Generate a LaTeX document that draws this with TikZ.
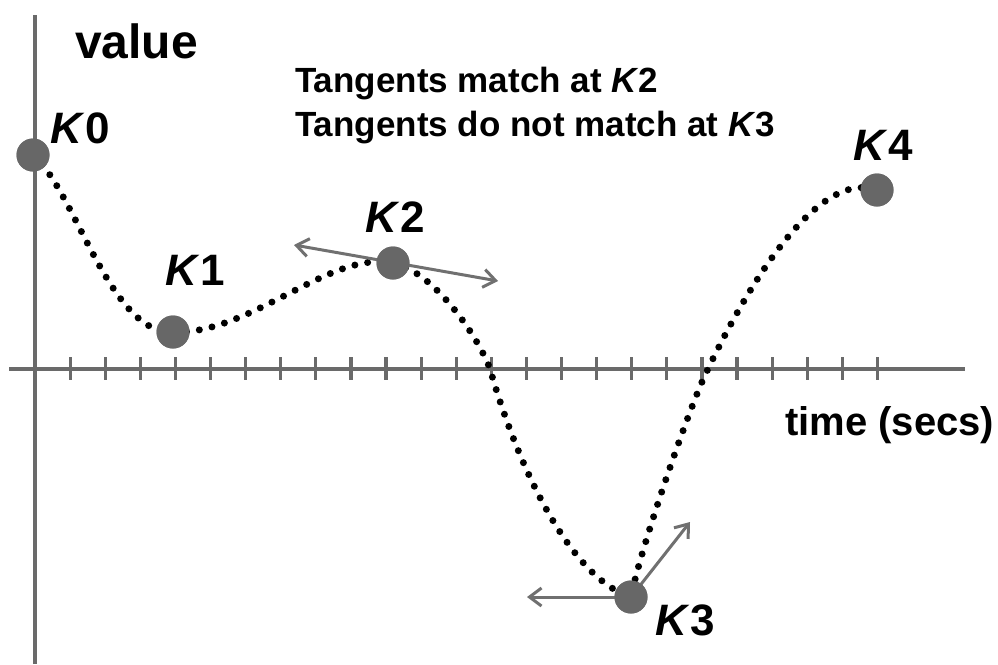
\documentclass[tikz,border=0pt]{standalone}
\usepackage{fontspec}
\setmainfont{Liberation Sans}
\usetikzlibrary{arrows.meta}
\definecolor{axisgray}{HTML}{6A6A6A}
\definecolor{keygray}{HTML}{676767}
\definecolor{tangray}{HTML}{707070}
\tikzset{
  axisline/.style={draw=axisgray, line width=3.5pt},
  tickline/.style={draw=axisgray, line width=3.2pt},
  keypt/.style={circle, fill=keygray, minimum size=33pt, inner sep=0pt},
  dotcurve/.style={draw=black, line width=7pt, line cap=round, dash pattern=on 0pt off 13pt},
  tanarrow/.style={draw=tangray, line width=3pt, arrows={-Straight Barb[length=12pt,width=18pt]}},
  lbl/.style={anchor=base west, inner sep=0pt, font=\bfseries},
}
\newcommand{\klab}[1]{{\itshape K}\kern4pt #1}
\begin{document}
\begin{tikzpicture}[x=1pt,y=-1pt]
\useasboundingbox (0,0) rectangle (998,664);
% axes
\coordinate (ytop) at (35,15);
\coordinate (ybot) at (35,664);
\coordinate (xl) at (9,369);
\coordinate (xr) at (965,369);
\draw[axisline] (ytop) -- (ybot);
\draw[axisline] (xl) -- (xr);
\foreach \i in {1,...,24} {
  \draw[tickline] ({35+35.1*\i},357) -- ({35+35.1*\i},380);
}
% key points
\node[keypt] (k0) at (33,155) {};
\node[keypt] (k1) at (173,332) {};
\node[keypt] (k2) at (393,263) {};
\node[keypt] (k3) at (631,597) {};
\node[keypt] (k4) at (877,190) {};
\coordinate (a) at (490,369);
\coordinate (b) at (707,371);
% curve
\draw[dotcurve] (k0.center) .. controls (75,190) and (110,335) .. (k1.center)
  .. controls (250,335) and (330,250) .. (k2.center)
  .. controls (433,271) and (478,336) .. (a)
  .. controls (522,480) and (575,580) .. (k3.center)
  .. controls (640,550) and (690,405) .. (b)
  .. controls (747,287) and (817,169) .. (k4.center);
% tangents
\coordinate (t2a) at (294,245);
\coordinate (t2b) at (498,281);
\coordinate (t3a) at (527,597);
\coordinate (t3b) at (690,522);
\draw[tanarrow, arrows={Straight Barb[length=12pt,width=18pt]-Straight Barb[length=12pt,width=18pt]}] (t2a) -- (t2b);
\draw[tanarrow] (k3.center) -- (t3a);
\draw[tanarrow] (k3.center) -- (t3b);
% key points drawn on top
\foreach \p in {(33,155),(173,332),(393,263),(631,597),(877,190)} {
  \fill[keygray] \p circle (16.5pt);
}
% labels
\node[lbl, font=\bfseries\fontsize{48}{56}\selectfont] (val) at (75,58) {value};
\node[lbl, font=\bfseries\fontsize{40}{48}\selectfont] (tim) at (785,435) {time (secs)};
\node[lbl, font=\bfseries\fontsize{35}{42}\selectfont] (tg1) at (295,92) {Tangents match at \textit{K}2};
\node[lbl, font=\bfseries\fontsize{35}{42}\selectfont] (tg2) at (295,136) {Tangents do not match at \textit{K}3};
\node[lbl, font=\bfseries\fontsize{44}{50}\selectfont] (l0) at (50,143) {\klab{0}};
\node[lbl, font=\bfseries\fontsize{44}{50}\selectfont] (l1) at (165,285) {\klab{1}};
\node[lbl, font=\bfseries\fontsize{44}{50}\selectfont] (l2) at (365,232) {\klab{2}};
\node[lbl, font=\bfseries\fontsize{44}{50}\selectfont] (l3) at (655,635) {\klab{3}};
\node[lbl, font=\bfseries\fontsize{44}{50}\selectfont] (l4) at (853,160) {\klab{4}};
\end{tikzpicture}
\end{document}
